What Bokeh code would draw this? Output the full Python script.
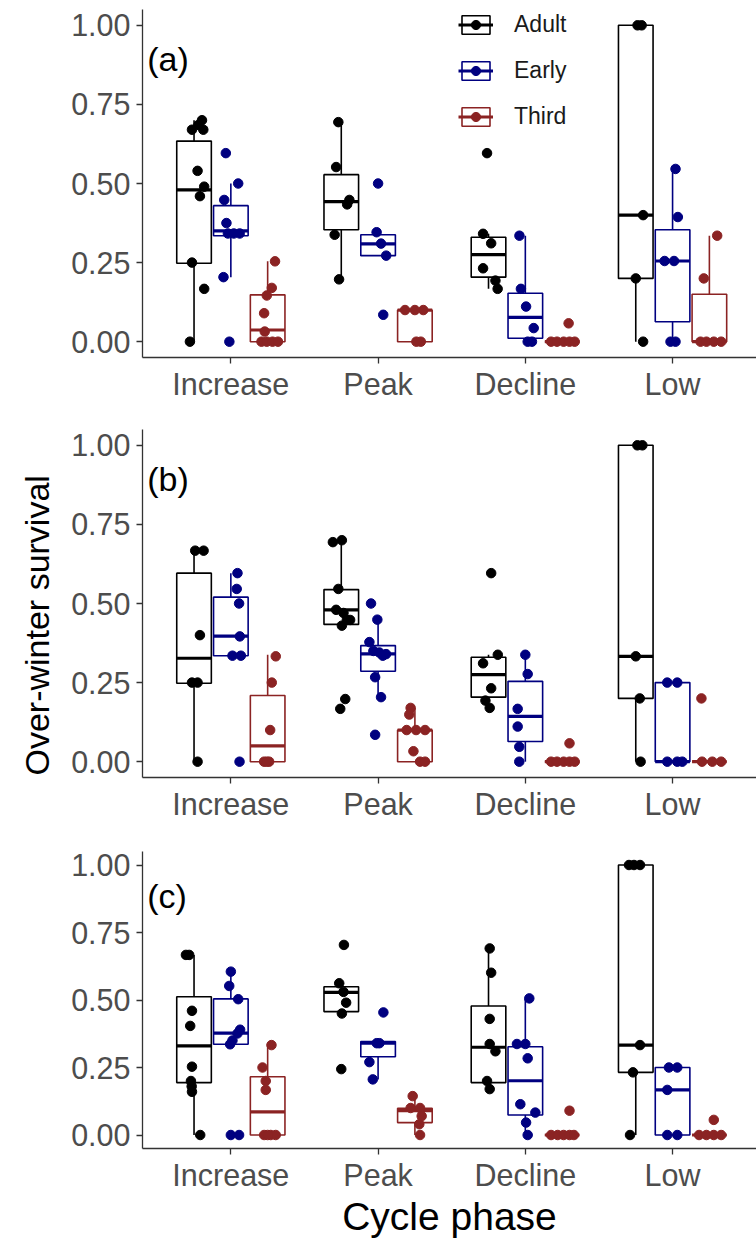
import math
from bokeh.plotting import figure
from bokeh.models import (Range1d, FixedTicker, NumeralTickFormatter, Label, Title,
                          Legend, LegendItem, ColumnDataSource)
from bokeh.layouts import column
from bokeh.embed import file_html
from bokeh.resources import INLINE

PHASES = ["Increase", "Peak", "Decline", "Low"]
STAGES = ["Adult", "Early", "Third"]
Y_TICKS = [0.0, 0.25, 0.5, 0.75, 1.0]

# box statistics per phase: (lower whisker, q1, median, q3, upper whisker)
# ---------- panel (a)
A_ADULT_BOX = [(0.00, 0.248, 0.48, 0.634, 0.70), (0.197, 0.354, 0.443, 0.528, 0.694),
               (0.167, 0.204, 0.275, 0.33, 0.341), (0.0, 0.2, 0.4, 1.0, 1.0)]
A_ADULT_PTS = [[0.70, 0.685, 0.67, 0.67, 0.54, 0.49, 0.46, 0.25, 0.167, 0.0],
               [0.694, 0.552, 0.448, 0.434, 0.338, 0.197],
               [0.596, 0.341, 0.311, 0.232, 0.193, 0.167],
               [1.0, 1.0, 0.4, 0.2, 0.0]]
A_ADULT_JIT = [[0.054, 0.03, -0.014, 0.063, 0.024, 0.069, 0.04, -0.014, 0.069, -0.028],
               [-0.02, -0.035, 0.055, 0.04, -0.045, -0.015],
               [-0.01, -0.037, 0.018, -0.037, 0.047, 0.062],
               [0.012, 0.04, 0.05, 0.0, 0.05]]
A_EARLY_BOX = [(0.204, 0.335, 0.35, 0.43, 0.50), (0.272, 0.272, 0.309, 0.338, 0.346),
               (0.0, 0.011, 0.077, 0.153, 0.335), (0.0, 0.063, 0.255, 0.354, 0.546)]
A_EARLY_PTS = [[0.596, 0.50, 0.448, 0.375, 0.342, 0.342, 0.342, 0.204, 0.0],
               [0.50, 0.346, 0.31, 0.272, 0.085],
               [0.335, 0.167, 0.111, 0.043, 0.0, 0.0],
               [0.546, 0.394, 0.255, 0.255, 0.0, 0.0]]
A_EARLY_JIT = [[-0.034, 0.05, -0.045, -0.03, -0.02, 0.02, 0.06, -0.05, -0.01],
               [0.0, -0.01, 0.02, 0.055, 0.035],
               [-0.04, -0.03, 0.005, 0.057, 0.016, 0.045],
               [0.02, 0.036, -0.054, 0.01, -0.014, 0.02]]
A_THIRD_BOX = [(0.0, 0.0, 0.037, 0.148, 0.254), (0.0, 0.0, 0.1, 0.1, 0.1),
               (0.0, 0.0, 0.0, 0.0, 0.0), (0.0, 0.0, 0.0, 0.15, 0.335)]
A_THIRD_PTS = [[0.254, 0.17, 0.146, 0.09, 0.032, 0.0, 0.0, 0.0, 0.0],
               [0.1, 0.1, 0.1, 0.0, 0.0],
               [0.058, 0.0, 0.0, 0.0, 0.0, 0.0],
               [0.335, 0.2, 0.0, 0.0, 0.0, 0.0]]
A_THIRD_JIT = [[0.05, 0.028, -0.006, -0.024, -0.02, -0.042, -0.006, 0.033, 0.07],
               [-0.067, 0.057, 0.0, 0.04, 0.01],
               [0.044, -0.075, -0.035, 0.01, 0.05, 0.085],
               [0.053, -0.038, -0.06, -0.02, 0.03, 0.08]]

# ---------- panel (b)
B_ADULT_BOX = [(0.0, 0.248, 0.327, 0.596, 0.666), (0.43, 0.434, 0.48, 0.544, 0.70),
               (0.167, 0.204, 0.275, 0.33, 0.338), (0.0, 0.2, 0.333, 1.0, 1.0)]
B_ADULT_PTS = [[0.667, 0.667, 0.40, 0.25, 0.25, 0.0],
               [0.70, 0.694, 0.546, 0.48, 0.47, 0.448, 0.448, 0.43, 0.198, 0.167],
               [0.596, 0.338, 0.311, 0.232, 0.193, 0.17],
               [1.0, 1.0, 0.333, 0.2, 0.0]]
B_ADULT_JIT = [[0.008, 0.065, 0.04, -0.014, 0.024, 0.024],
               [0.004, -0.057, -0.02, -0.035, 0.015, 0.038, 0.06, 0.004, 0.027, -0.007],
               [0.018, 0.063, -0.037, 0.018, -0.021, 0.008],
               [0.011, 0.045, 0.0, 0.027, 0.033]]
B_EARLY_BOX = [(0.335, 0.335, 0.397, 0.52, 0.596), (0.204, 0.286, 0.341, 0.367, 0.449),
               (0.0, 0.064, 0.143, 0.254, 0.338), (0.0, 0.0, 0.0, 0.25, 0.25)]
B_EARLY_PTS = [[0.596, 0.546, 0.50, 0.396, 0.335, 0.335, 0.0],
               [0.50, 0.449, 0.378, 0.35, 0.345, 0.34, 0.335, 0.267, 0.204, 0.085],
               [0.338, 0.277, 0.167, 0.111, 0.047, 0.0],
               [0.25, 0.25, 0.0, 0.0, 0.0]]
B_EARLY_JIT = [[0.045, 0.04, 0.056, 0.061, 0.011, 0.068, 0.059],
               [-0.048, -0.005, -0.059, -0.032, 0.009, 0.054, 0.032, -0.02, 0.02, -0.02],
               [0.0, 0.016, -0.052, -0.052, -0.041, -0.041],
               [-0.036, 0.032, -0.036, 0.032, 0.066]]
B_THIRD_BOX = [(0.0, 0.0, 0.05, 0.209, 0.338), (0.0, 0.0, 0.1, 0.1, 0.17),
               (0.0, 0.0, 0.0, 0.0, 0.0), (0.0, 0.0, 0.0, 0.0, 0.0)]
B_THIRD_PTS = [[0.333, 0.25, 0.1, 0.0, 0.0, 0.0],
               [0.17, 0.149, 0.1, 0.1, 0.1, 0.033, 0.0, 0.0],
               [0.058, 0.0, 0.0, 0.0, 0.0, 0.0],
               [0.2, 0.0, 0.0, 0.0]]
B_THIRD_JIT = [[0.055, 0.028, 0.017, -0.024, 0.01, -0.006],
               [-0.029, -0.038, -0.056, 0.008, 0.069, -0.01, 0.035, 0.069],
               [0.05, -0.075, -0.035, 0.01, 0.05, 0.085],
               [-0.054, -0.05, 0.02, 0.08]]

# ---------- panel (c)
C_ADULT_BOX = [(0.0, 0.194, 0.33, 0.512, 0.667), (0.45, 0.457, 0.528, 0.549, 0.562),
               (0.17, 0.194, 0.325, 0.478, 0.691), (0.0, 0.232, 0.333, 1.0, 1.0)]
C_ADULT_PTS = [[0.667, 0.667, 0.46, 0.404, 0.253, 0.2, 0.18, 0.16, 0.0],
               [0.704, 0.562, 0.53, 0.49, 0.45, 0.244],
               [0.691, 0.601, 0.43, 0.337, 0.31, 0.2, 0.17],
               [1.0, 1.0, 1.0, 0.333, 0.232, 0.0]]
C_ADULT_JIT = [[-0.055, -0.033, -0.014, -0.026, -0.014, -0.021, -0.016, -0.014, 0.042],
               [0.018, -0.014, 0.015, 0.033, 0.004, 0.0],
               [0.008, 0.018, 0.008, 0.008, 0.047, -0.01, 0.008],
               [-0.046, -0.012, 0.029, 0.029, -0.019, -0.039]]
C_EARLY_BOX = [(0.336, 0.336, 0.377, 0.504, 0.605), (0.206, 0.29, 0.34, 0.346, 0.346),
               (0.0, 0.074, 0.201, 0.327, 0.506), (0.0, 0.0, 0.167, 0.25, 0.25)]
C_EARLY_PTS = [[0.605, 0.552, 0.503, 0.39, 0.376, 0.35, 0.336, 0.0, 0.0],
               [0.454, 0.34, 0.34, 0.27, 0.206],
               [0.506, 0.337, 0.337, 0.284, 0.114, 0.083, 0.046, 0.0],
               [0.25, 0.25, 0.167, 0.0, 0.0]]
C_EARLY_JIT = [[0.0, -0.011, 0.05, 0.063, 0.045, 0.011, -0.005, 0.0, 0.056],
               [0.036, -0.009, 0.009, -0.059, -0.036],
               [0.027, -0.057, 0.0, 0.016, -0.034, 0.068, 0.005, 0.016],
               [-0.025, 0.032, -0.036, -0.036, 0.032]]
C_THIRD_BOX = [(0.0, 0.0, 0.086, 0.216, 0.337), (0.0, 0.046, 0.09, 0.099, 0.144),
               (0.0, 0.0, 0.0, 0.0, 0.0), (0.0, 0.0, 0.0, 0.0, 0.0)]
C_THIRD_PTS = [[0.333, 0.25, 0.2, 0.167, 0.0, 0.0, 0.0, 0.0],
               [0.144, 0.1, 0.1, 0.07, 0.04, 0.0],
               [0.09, 0.0, 0.0, 0.0, 0.0, 0.0],
               [0.056, 0.0, 0.0, 0.0, 0.0]]
C_THIRD_JIT = [[0.026, -0.035, -0.013, -0.013, -0.024, 0.021, 0.055, 0.0],
               [-0.015, -0.029, 0.035, 0.046, 0.03, 0.035],
               [0.05, -0.075, -0.03, 0.01, 0.05, 0.08],
               [0.03, -0.07, -0.02, 0.03, 0.08]]

# ---------- styling
COLORS = {"Adult": "#000000", "Early": "#000080", "Third": "#8B2323"}
OFFSET = {"Adult": -0.25, "Early": 0.0, "Third": 0.25}
BOX_W = 0.235
FONT = "Liberation Sans"


def make_panel(tag, boxes, pts, jits, height, top, bottom, tag_y,
               xlabel=None, ylabel=None, legend=False):
    p = figure(width=756, height=height, x_range=Range1d(0.4, 4.57),
               y_range=Range1d(-0.05, 1.05), output_backend="svg",
               toolbar_location=None, min_border_left=142, min_border_right=0,
               min_border_top=top, min_border_bottom=bottom)
    p.outline_line_color = None
    p.grid.visible = False

    legend_parts = {}
    for s in STAGES:
        c = COLORS[s]
        xs = [i + 1 + OFFSET[s] for i in range(len(PHASES))]
        lo, q1, md, q3, hi = (list(v) for v in zip(*boxes[s]))
        src = ColumnDataSource(dict(x=xs, x0=[x - BOX_W / 2 for x in xs],
                                    x1=[x + BOX_W / 2 for x in xs],
                                    lo=lo, q1=q1, md=md, q3=q3, hi=hi))
        p.segment("x", "q3", "x", "hi", source=src, line_color=c, line_width=1.6)
        p.segment("x", "lo", "x", "q1", source=src, line_color=c, line_width=1.6)
        rb = p.vbar(x="x", width=BOX_W, top="q3", bottom="q1", source=src,
                    fill_color="white", line_color=c, line_width=1.6)
        rm = p.segment("x0", "md", "x1", "md", source=src, line_color=c, line_width=3.2)
        legend_parts[s] = [rb, rm]

    for s in STAGES:
        c = COLORS[s]
        px, py = [], []
        for i, (vals, js) in enumerate(zip(pts[s], jits[s])):
            for v, j in zip(vals, js):
                px.append(i + 1 + OFFSET[s] + j)
                py.append(v)
        rp = p.scatter(px, py, size=9.5, fill_color=c, line_color=c)
        legend_parts[s].append(rp)

    p.xaxis.ticker = FixedTicker(ticks=[1, 2, 3, 4])
    p.xaxis.major_label_overrides = {i + 1: ph for i, ph in enumerate(PHASES)}
    p.yaxis.ticker = FixedTicker(ticks=Y_TICKS)
    p.yaxis.formatter = NumeralTickFormatter(format="0.00")
    for ax in (p.xaxis[0], p.yaxis[0]):
        ax.axis_line_color = "#333333"
        ax.axis_line_width = 1.3
        ax.major_tick_line_color = "#333333"
        ax.major_tick_line_width = 1.3
        ax.major_tick_out = 6
        ax.major_tick_in = 0
        ax.minor_tick_line_color = None
        ax.major_label_text_font = FONT
        ax.major_label_text_font_size = "30.5px"
        ax.major_label_text_color = "#4d4d4d"
    p.xaxis.major_label_standoff = 3
    p.yaxis.major_label_standoff = 6

    if xlabel:
        p.xaxis.axis_label = xlabel
        p.xaxis.axis_label_text_font = FONT
        p.xaxis.axis_label_text_font_size = "39px"
        p.xaxis.axis_label_text_font_style = "normal"
        p.xaxis.axis_label_text_color = "#000000"
        p.xaxis.axis_label_standoff = 0

    p.add_layout(Label(x=0.432, y=tag_y, text=tag, text_font=FONT,
                       text_font_size="34px", text_align="left",
                       text_baseline="middle", text_color="#000000"))

    if ylabel:
        p.add_layout(Title(text=ylabel, align="left", offset=2, standoff=24,
                           vertical_align="middle", text_font=FONT,
                           text_font_size="34px", text_font_style="normal",
                           text_color="#000000"), "left")

    if legend:
        items = [LegendItem(label=s, renderers=legend_parts[s]) for s in STAGES]
        leg = Legend(items=items, location=(316, 227), orientation="vertical",
                     glyph_width=35, glyph_height=23, label_height=23, spacing=19,
                     padding=0, margin=0, border_line_color=None,
                     background_fill_alpha=0, label_text_font=FONT,
                     label_text_font_size="23px", label_standoff=21,
                     label_text_color="#1a1a1a")
        p.add_layout(leg)
    return p


pa = make_panel("(a)",
                {"Adult": A_ADULT_BOX, "Early": A_EARLY_BOX, "Third": A_THIRD_BOX},
                {"Adult": A_ADULT_PTS, "Early": A_EARLY_PTS, "Third": A_THIRD_PTS},
                {"Adult": A_ADULT_JIT, "Early": A_EARLY_JIT, "Third": A_THIRD_JIT},
                height=420, top=9, bottom=63, tag_y=0.895, legend=True)
pb = make_panel("(b)",
                {"Adult": B_ADULT_BOX, "Early": B_EARLY_BOX, "Third": B_THIRD_BOX},
                {"Adult": B_ADULT_PTS, "Early": B_EARLY_PTS, "Third": B_THIRD_PTS},
                {"Adult": B_ADULT_JIT, "Early": B_EARLY_JIT, "Third": B_THIRD_JIT},
                height=420, top=9, bottom=63, tag_y=0.895, ylabel="Over-winter survival")
pc = make_panel("(c)",
                {"Adult": C_ADULT_BOX, "Early": C_EARLY_BOX, "Third": C_THIRD_BOX},
                {"Adult": C_ADULT_PTS, "Early": C_EARLY_PTS, "Third": C_THIRD_PTS},
                {"Adult": C_ADULT_JIT, "Early": C_EARLY_JIT, "Third": C_THIRD_JIT},
                height=405, top=11, bottom=97, tag_y=0.885, xlabel="Cycle phase")

layout = column(pa, pb, pc, spacing=0)
open("out.html", "w").write(file_html(layout, INLINE))
